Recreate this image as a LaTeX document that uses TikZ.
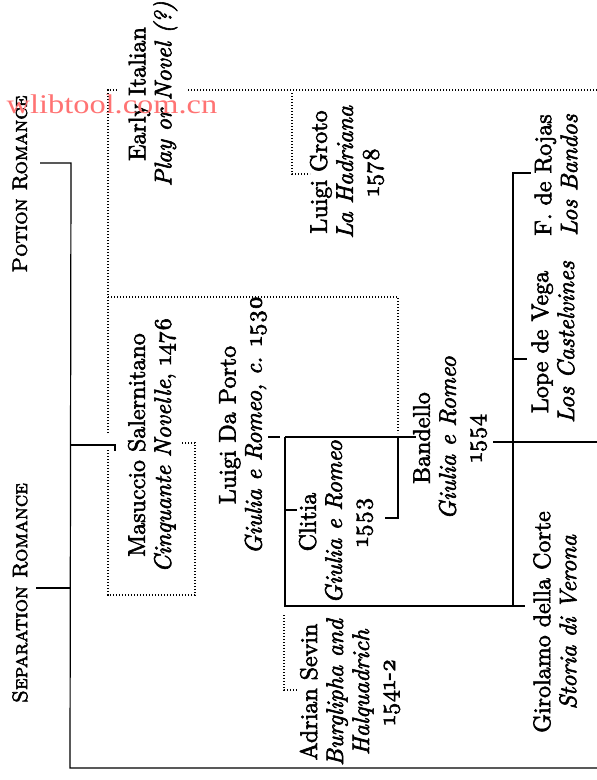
\documentclass[tikz,border=0pt]{standalone}
\usepackage{fontspec}
\newfontfamily\markfont{Liberation Serif}
\newfontfamily\bookfont{lmroman10-regular}[Extension=.otf, ItalicFont=lmroman10-italic, FakeBold=2.5]
\newfontfamily\headfont{lmromancaps10-regular}[Extension=.otf, FakeBold=2.5]
\usetikzlibrary{positioning,calc}

\begin{document}
\begin{tikzpicture}[
    x=1pt, y=-1pt,
    heading/.style={rotate=90, font=\headfont\fontsize{21}{24}\selectfont, inner sep=0pt},
    work/.style={rotate=90, align=center, font=\bookfont\fontsize{24}{26}\selectfont, inner sep=0pt},
    link/.style={line width=1.2pt},
    hint/.style={line width=1.3pt, dash pattern=on 1.3pt off 1.7pt}
]
    \useasboundingbox (0,0) rectangle (597,780);
    \clip (0,0) rectangle (597,780);

    \node[heading] (potion) at (20,184) {Potion Romance};
    \node[heading] (separation) at (20,593) {Separation Romance};
    \node[work] (early) at (153,94) {Early Italian\\\textit{Play or Novel (?)}};
    \node[work] (groto) at (347,172) {Luigi Groto\\\textit{La Hadriana}\\\oldstylenums{1578}};
    \node[work] (rojas) at (556,175) {F. de Rojas\\\textit{Los Bandos}};
    \node[work] (masuccio) at (152,445) {Masuccio Salernitano\\\textit{Cinquante Novelle}, \oldstylenums{1476}};
    \node[work] (daporto) at (243,425) {Luigi Da Porto\\\textit{Giulia e Romeo, c.} \oldstylenums{1530}};
    \node[work] (clitia) at (336,522) {Clitia\\\textit{Giulia e Romeo}\\\oldstylenums{1553}};
    \node[work] (bandello) at (450,438) {Bandello\\\textit{Giulia e Romeo}\\\oldstylenums{1554}};
    \node[work] (lope) at (553,342) {Lope de Vega\\\textit{Los Castelvines}};
    \node[work] (girolamo) at (555,622) {Girolamo della Corte\\\textit{Storia di Verona}};
    \node[work] (sevin) at (350,692) {Adrian Sevin\\\textit{Burglipha and}\\\textit{Halquadrich}\\\oldstylenums{1541-2}};

    \coordinate (potionTick) at (40,163);
    \coordinate (spineTop) at (71,163);
    \coordinate (sepTick) at (36,588);
    \coordinate (spineBot) at (70,768);
    \coordinate (baseEnd) at (597,768);
    \coordinate (masuccioIn) at (115,445);
    \coordinate (portoTick) at (268,437);
    \coordinate (portoSplit) at (285,437);
    \coordinate (portoLow) at (285,606);
    \coordinate (bandelloJoin) at (398,437);
    \coordinate (clitiaOut) at (385,518);
    \coordinate (spanishTop) at (513,173);
    \coordinate (spanishBot) at (513,606);
    \coordinate (bandelloOut) at (493,442);
    \coordinate (bandelloEnd) at (597,442);

    \draw[link] (potionTick) -- (spineTop) -- (spineBot) -- (baseEnd);
    \draw[link] (sepTick) -- (spineTop |- sepTick);
    \draw[link] (spineTop |- masuccioIn) -- (masuccioIn) -- ++(0,6);
    \draw[link] (portoTick) -- ++(12,0);
    \draw[link] (portoSplit) -- (bandelloJoin) -- ++(18,0);
    \draw[link] (portoSplit) -- (portoLow) -- (spanishBot) -- ++(12,0);
    \draw[link] ($(portoSplit)+(0,73)$) -- ++(12,0);
    \draw[link] (bandelloJoin) -- (bandelloJoin |- clitiaOut) -- (clitiaOut);
    \draw[link] (spanishBot) -- (spanishTop) -- ++(18,0);
    \draw[link] ($(spanishTop)+(0,186)$) -- ++(14,0);
    \draw[link] (bandelloOut) -- (bandelloEnd);

    \coordinate (earlyTop) at (108,90);
    \coordinate (earlyGap) at (108,433);
    \coordinate (earlyLow) at (108,450);
    \coordinate (earlyBot) at (108,595);
    \coordinate (masuccioHook) at (195,595);
    \coordinate (masuccioEnd) at (181,443);
    \coordinate (bandelloHint) at (398,297);
    \coordinate (grotoHint) at (292,93);
    \coordinate (grotoEnd) at (310,174);
    \coordinate (sevinHint) at (284,615);
    \coordinate (sevinEnd) at (297,690);

    \draw[hint] (earlyGap) -- (earlyTop) -- ++(10,0);
    \draw[hint] (188,90) -- (597,90);
    \draw[hint] (earlyTop |- bandelloHint) -- (bandelloHint) -- (bandelloHint |- earlyGap);
    \draw[hint] (earlyLow) -- (earlyBot) -- (masuccioHook) -- (masuccioHook |- masuccioEnd) -- (masuccioEnd);
    \draw[hint] (grotoHint) -- (grotoHint |- grotoEnd) -- (grotoEnd);
    \draw[hint] (sevinHint) -- (sevinHint |- sevinEnd) -- (sevinEnd);

    \node[text=red!55, font=\markfont\fontsize{27}{27}\selectfont, xscale=1.2, inner sep=0pt] (mark) at (112,104) {wlibtool.com.cn};
\end{tikzpicture}
\end{document}
